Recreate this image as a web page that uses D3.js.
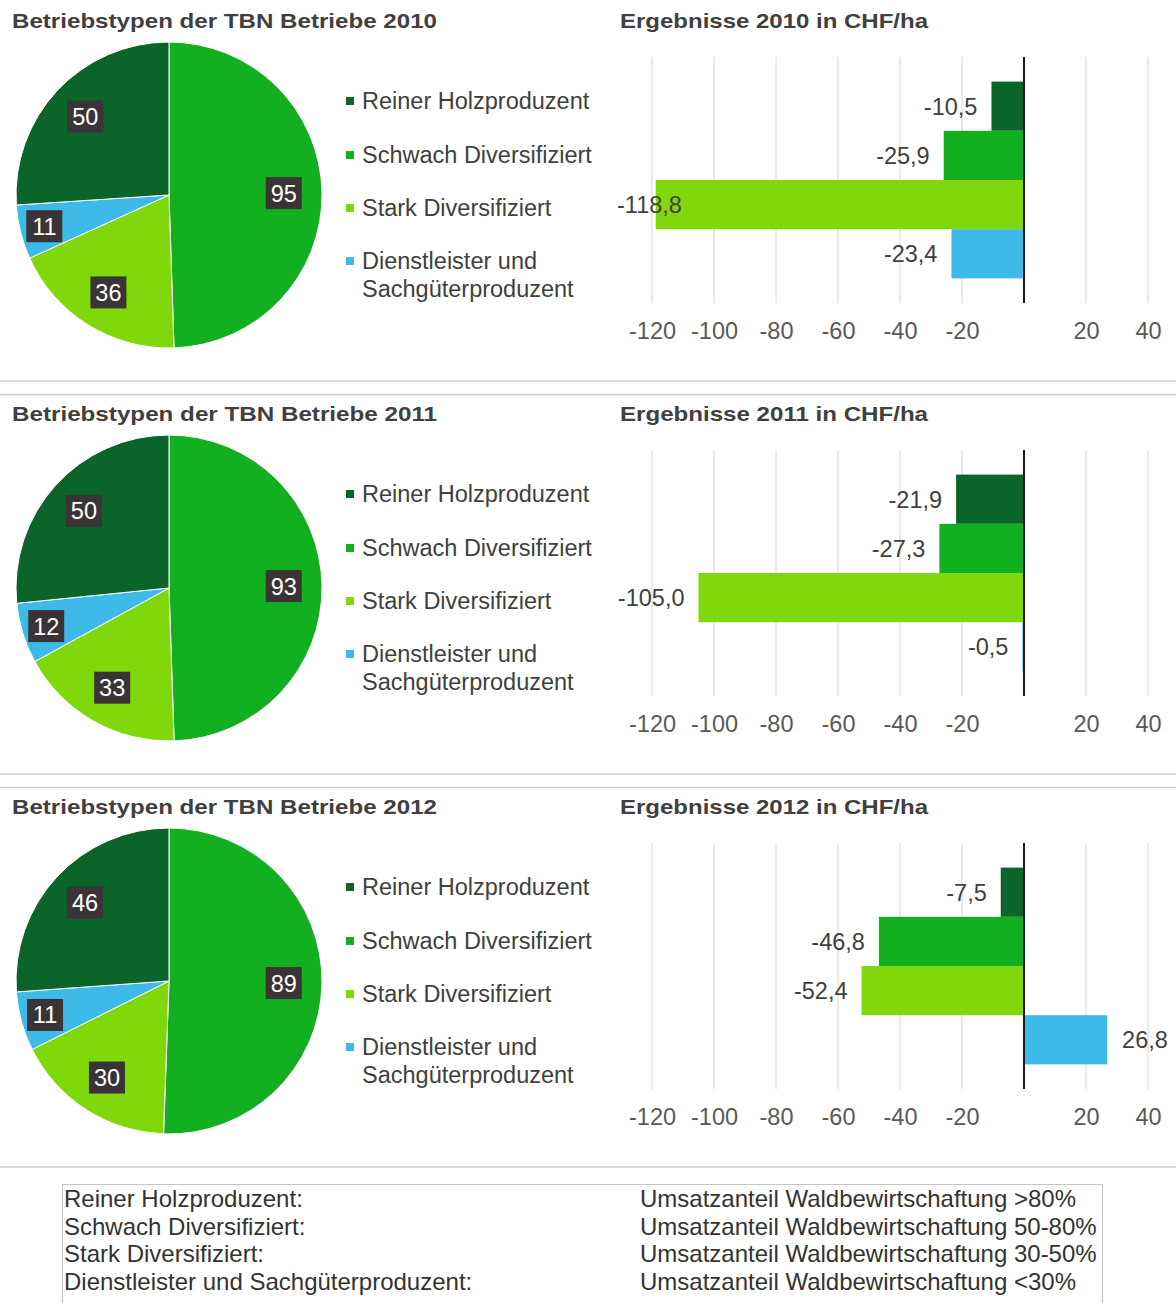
<!DOCTYPE html>
<html>
<head>
<meta charset="utf-8">
<script src="https://cdn.jsdelivr.net/npm/d3@7"></script>
<style>
  body { margin: 0; background: #fff; }
  text { font-family: "Liberation Sans", Arial, sans-serif; }
</style>
</head>
<body>
<div id="chart"></div>
<script>
// data
var years = [2010, 2011, 2012];
var categories = ["Reiner Holzproduzent", "Schwach Diversifiziert", "Stark Diversifiziert", "Dienstleister und Sachgüterproduzent"];
var counts2010 = [50, 95, 36, 11];
var counts2011 = [50, 93, 33, 12];
var counts2012 = [46, 89, 30, 11];
var results2010 = [-10.5, -25.9, -118.8, -23.4];
var results2011 = [-21.9, -27.3, -105.0, -0.5];
var results2012 = [-7.5, -46.8, -52.4, 26.8];
var xTicks = [-120, -100, -80, -60, -40, -20, 20, 40];
var notes = ["Umsatzanteil Waldbewirtschaftung >80%", "Umsatzanteil Waldbewirtschaftung 50-80%",
             "Umsatzanteil Waldbewirtschaftung 30-50%", "Umsatzanteil Waldbewirtschaftung <30%"];
var noteLabels = ["Reiner Holzproduzent:", "Schwach Diversifiziert:", "Stark Diversifiziert:", "Dienstleister und Sachgüterproduzent:"];

var counts = [counts2010, counts2011, counts2012];
var results = [results2010, results2011, results2012];

var colors = ["#0b6429", "#12b021", "#7fd70c", "#3dbae8"];
var color = d3.scaleOrdinal().domain(categories).range(colors);

// pie starts at 12 o'clock with the second category
var pieOrder = [1, 2, 3, 0];

var W = 1176, H = 1303, panelH = 393;
var fs = "23.5px";

var svg = d3.select("#chart")
  .append("svg")
    .attr("width", W)
    .attr("height", H);

// comma decimals, plain hyphen for minus
var locale = d3.formatLocale({decimal: ",", thousands: ".", grouping: [3], currency: ["", " CHF"], minus: "-"});
var fmt = locale.format(".1f");

// x scale for the bar charts
var x = d3.scaleLinear()
  .domain([-120, 40])
  .range([652, 1148]);

var y = d3.scaleBand()
  .domain(categories)
  .range([57, 303])
  .paddingInner(0)
  .paddingOuter(0.5);

var R = 153;
var arc = d3.arc().innerRadius(0).outerRadius(R);
var pie = d3.pie().sort(null).value(function(d) { return d.value; });

years.forEach(function(year, k) {
  var g = svg.append("g")
    .attr("transform", "translate(0," + (k * panelH) + ")");

  // separator lines
  if (k > 0) {
    g.append("line")
      .attr("x1", 0).attr("x2", W)
      .attr("y1", 1.5).attr("y2", 1.5)
      .attr("stroke", "#cfcfcf").attr("stroke-width", 1.5);
  }
  g.append("line")
    .attr("x1", 0).attr("x2", W)
    .attr("y1", 381).attr("y2", 381)
    .attr("stroke", "#cfcfcf").attr("stroke-width", 1.5);

  // titles
  g.append("text")
    .attr("x", 12).attr("y", 28)
    .style("font-size", "21px").style("font-weight", "bold")
    .style("fill", "#404040")
    .attr("textLength", 425).attr("lengthAdjust", "spacingAndGlyphs")
    .text("Betriebstypen der TBN Betriebe " + year);

  g.append("text")
    .attr("x", 620).attr("y", 28)
    .style("font-size", "21px").style("font-weight", "bold")
    .style("fill", "#404040")
    .attr("textLength", 308).attr("lengthAdjust", "spacingAndGlyphs")
    .text("Ergebnisse " + year + " in CHF/ha");

  // ---- pie ----
  var pdata = pieOrder.map(function(i) { return {key: categories[i], value: counts[k][i]}; });
  var total = d3.sum(pdata, function(d) { return d.value; });
  var pg = g.append("g").attr("transform", "translate(169,195)");

  var arcs = pie(pdata);
  pg.selectAll("path")
    .data(arcs)
    .enter()
    .append("path")
      .attr("d", arc)
      .attr("fill", function(d) { return color(d.data.key); })
      .attr("stroke", "#fff")
      .attr("stroke-width", 1);

  var labels = pg.selectAll("g.lbl")
    .data(arcs)
    .enter()
    .append("g")
      .attr("class", "lbl")
      .attr("transform", function(d) {
        var r = (d.data.value / total < 0.1) ? R * 0.84 : R * 0.75;
        var a = (d.startAngle + d.endAngle) / 2;
        return "translate(" + (r * Math.sin(a)) + "," + (-r * Math.cos(a)) + ")";
      });
  labels.append("rect")
    .attr("x", -18).attr("y", -16)
    .attr("width", 36).attr("height", 32)
    .attr("fill", "#3a3437");
  labels.append("text")
    .attr("text-anchor", "middle")
    .attr("dy", "0.36em")
    .style("font-size", fs)
    .style("fill", "#fff")
    .text(function(d) { return d.data.value; });

  // ---- legend ----
  var legRows = [101, 155, 208, 261];
  var lg = g.append("g");
  lg.selectAll("rect")
    .data(categories)
    .enter()
    .append("rect")
      .attr("x", 346)
      .attr("y", function(d, i) { return legRows[i] - 4; })
      .attr("width", 8).attr("height", 8)
      .attr("fill", function(d) { return color(d); });
  lg.selectAll("text")
    .data(categories)
    .enter()
    .append("text")
      .attr("x", 362)
      .attr("y", function(d, i) { return legRows[i]; })
      .style("font-size", fs)
      .style("fill", "#404040")
      .each(function(d) {
        var parts = d === categories[3] ? ["Dienstleister und", "Sachgüterproduzent"] : [d];
        var t = d3.select(this);
        parts.forEach(function(p, j) {
          t.append("tspan")
            .attr("x", 362)
            .attr("dy", j === 0 ? "0.36em" : "28px")
            .text(p);
        });
      });

  // ---- bars ----
  var bg = g.append("g");
  bg.selectAll("line.grid")
    .data(xTicks)
    .enter()
    .append("line")
      .attr("class", "grid")
      .attr("x1", function(d) { return x(d); })
      .attr("x2", function(d) { return x(d); })
      .attr("y1", 57).attr("y2", 303)
      .attr("stroke", "#d6d6d6").attr("stroke-width", 1);

  var bdata = categories.map(function(c, i) { return {key: c, value: results[k][i]}; });

  bg.selectAll("rect")
    .data(bdata)
    .enter()
    .append("rect")
      .attr("x", function(d) { return x(Math.min(0, d.value)); })
      .attr("y", function(d) { return y(d.key); })
      .attr("width", function(d) { return Math.abs(x(d.value) - x(0)); })
      .attr("height", y.bandwidth())
      .attr("fill", function(d) { return color(d.key); });

  // zero axis
  bg.append("line")
    .attr("x1", x(0)).attr("x2", x(0))
    .attr("y1", 57).attr("y2", 303)
    .attr("stroke", "#1a1a1a").attr("stroke-width", 2);

  bg.selectAll("text.val")
    .data(bdata)
    .enter()
    .append("text")
      .attr("class", "val")
      .attr("y", function(d) { return y(d.key) + y.bandwidth() / 2; })
      .attr("dy", "0.36em")
      .style("font-size", fs)
      .style("fill", "#404040")
      .text(function(d) { return fmt(d.value); })
      .each(function(d) {
        var t = d3.select(this);
        var w = this.getComputedTextLength();
        if (d.value >= 0) {
          t.attr("x", x(d.value) + 15);
        } else {
          var xs = Math.max(x(d.value) - 14 - w, 617);
          t.attr("x", xs);
        }
      });

  // tick labels
  var axis = d3.axisBottom(x).tickValues(xTicks).tickSize(0).tickPadding(0)
    .tickFormat(function(d) { return d; });
  var ax = bg.append("g")
    .attr("transform", "translate(0,322)")
    .call(axis);
  ax.select(".domain").remove();
  ax.selectAll("text")
    .style("font-size", fs)
    .style("fill", "#595959")
    .style("font-family", "Liberation Sans, Arial, sans-serif");
});

// ---- explanation box ----
var box = svg.append("g");
box.append("rect")
  .attr("x", 62.5).attr("y", 1184.5)
  .attr("width", 1040).attr("height", 140)
  .attr("fill", "none")
  .attr("stroke", "#c4c4c4").attr("stroke-width", 1);

var noteRows = [1198, 1226, 1253, 1281];
box.selectAll("text.nl")
  .data(noteLabels)
  .enter()
  .append("text")
    .attr("class", "nl")
    .attr("x", 64)
    .attr("y", function(d, i) { return noteRows[i]; })
    .attr("dy", "0.36em")
    .style("font-size", "24px")
    .style("fill", "#333")
    .text(function(d) { return d; });
box.selectAll("text.nt")
  .data(notes)
  .enter()
  .append("text")
    .attr("class", "nt")
    .attr("x", 640)
    .attr("y", function(d, i) { return noteRows[i]; })
    .attr("dy", "0.36em")
    .style("font-size", "24px")
    .style("fill", "#333")
    .text(function(d) { return d; });
</script>
</body>
</html>
